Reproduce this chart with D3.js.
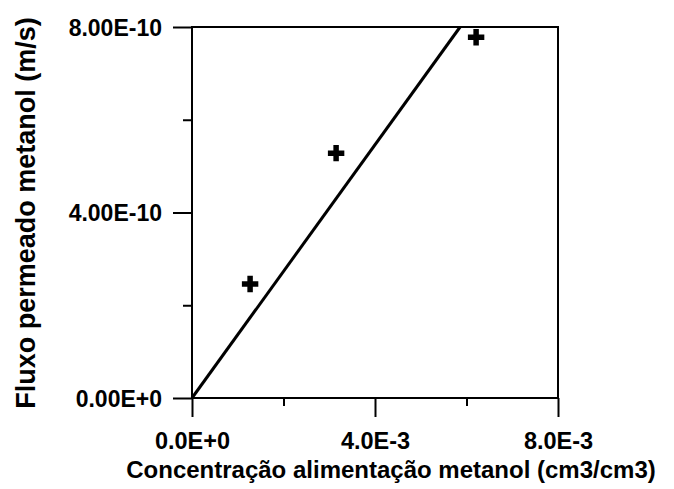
<!DOCTYPE html>
<html><head><meta charset="utf-8">
<script src="https://cdn.jsdelivr.net/npm/d3@7"></script>
<style>body{margin:0;background:#fff}svg{display:block}text{font-family:"Liberation Sans",Arial,sans-serif;font-weight:bold;fill:#000}</style>
</head><body><svg id="c" width="674" height="489"></svg>
<script>
const pointsX = [1.27e-3, 3.15e-3, 6.21e-3];
const pointsY = [2.46e-10, 5.28e-10, 7.78e-10];
const fitX = [0, 5.86e-3];
const fitY = [0, 8e-10];
const xMajor = [0, 4e-3, 8e-3];
const xMajorLabels = ["0.0E+0", "4.0E-3", "8.0E-3"];
const xMinor = [2e-3, 6e-3];
const yMajor = [0, 4e-10, 8e-10];
const yMajorLabels = ["0.00E+0", "4.00E-10", "8.00E-10"];
const yMinor = [2e-10, 6e-10];
const xTitle = "Concentração alimentação metanol (cm3/cm3)";
const yTitle = "Fluxo permeado metanol (m/s)";

const L = 192, R = 558, T = 27, B = 398;
const svg = d3.select("#c");
const x = d3.scaleLinear().domain([0, 8e-3]).range([L, R]);
const y = d3.scaleLinear().domain([0, 8e-10]).range([B, T]);

// frame
svg.append("rect").attr("x", L).attr("y", T).attr("width", R - L).attr("height", B - T)
  .attr("fill", "none").attr("stroke", "#000").attr("stroke-width", 2);

// x axis
const gx = svg.append("g").attr("transform", `translate(0,${B})`)
  .call(d3.axisBottom(x).tickValues(xMajor).tickSize(19).tickFormat((d, i) => xMajorLabels[i]));
const gxm = svg.append("g").attr("transform", `translate(0,${B})`)
  .call(d3.axisBottom(x).tickValues(xMinor).tickSize(8).tickFormat(""));
// y axis
const gy = svg.append("g").attr("transform", `translate(${L},0)`)
  .call(d3.axisLeft(y).tickValues(yMajor).tickSize(19).tickFormat((d, i) => yMajorLabels[i]).tickPadding(11));
const gym = svg.append("g").attr("transform", `translate(${L},0)`)
  .call(d3.axisLeft(y).tickValues(yMinor).tickSize(9).tickFormat(""));
[gx, gxm, gy, gym].forEach(g => {
  g.select(".domain").remove();
  g.selectAll("line").attr("stroke", "#000").attr("stroke-width", 2);
  g.selectAll("text").attr("font-family", "Liberation Sans, Arial, sans-serif").attr("font-weight", "bold").attr("fill", "#000");
});
gx.selectAll("text").attr("font-size", 23.5).attr("y", 51).attr("dy", 0);
gy.selectAll("text").attr("font-size", 23).attr("dy", "0.36em");

// fit line
svg.append("path").datum(fitX.map((d, i) => [d, fitY[i]]))
  .attr("d", d3.line().x(d => x(d[0])).y(d => y(d[1])))
  .attr("stroke", "#000").attr("stroke-width", 3).attr("fill", "none");

// points (plus markers)
const pts = pointsX.map((d, i) => [d, pointsY[i]]);
svg.append("g").selectAll("path").data(pts).join("path")
  .attr("d", d3.symbol().type(d3.symbolCross).size(150))
  .attr("transform", d => `translate(${x(d[0])},${y(d[1])})`)
  .attr("fill", "#000");

// titles
svg.append("text").attr("x", 391).attr("y", 478).attr("text-anchor", "middle")
  .attr("font-size", 24).text(xTitle);
svg.append("text").attr("transform", `translate(35,213) rotate(-90)`).attr("text-anchor", "middle")
  .attr("font-size", 27).text(yTitle);
</script></body></html>
